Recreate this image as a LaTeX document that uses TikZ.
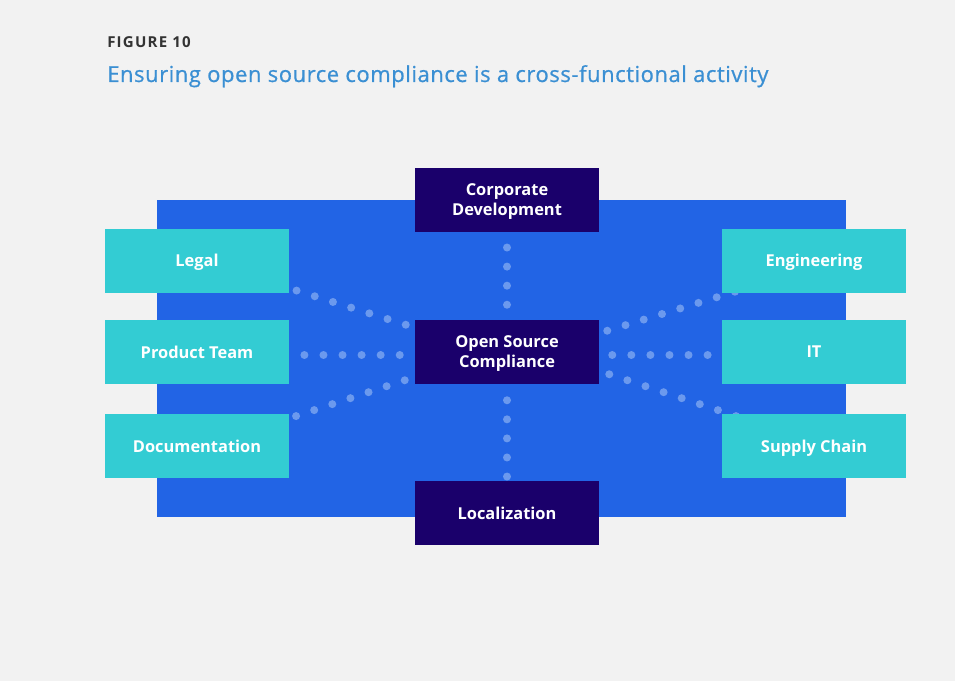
\documentclass[tikz,border=0pt]{standalone}
\usepackage{fontspec}
\setmainfont{Open Sans}
\newfontfamily\titlefont[FakeBold=0.7, LetterSpace=2.5]{Open Sans}
\newfontfamily\figfont[LetterSpace=8]{Open Sans}
\usepackage{xcolor}
\usepackage{tikz}
\usetikzlibrary{calc,backgrounds}
\definecolor{pagegray}{HTML}{F2F2F2}
\definecolor{panelblue}{HTML}{2264E5}
\definecolor{hubnavy}{HTML}{1A006B}
\definecolor{teamcyan}{HTML}{33CCD3}
\definecolor{dotblue}{HTML}{6B99EE}
\definecolor{titleblue}{HTML}{3A8FD3}
\definecolor{labelgray}{HTML}{333333}

\tikzset{
  unit/.style={minimum width=138pt, minimum height=48pt, inner sep=2pt,
    text depth=0pt, align=center, text=white,
    font=\bfseries\fontsize{12.3}{15}\selectfont},
  hubbox/.style={unit, fill=hubnavy},
  teambox/.style={unit, fill=teamcyan},
  dotline/.style={dotblue, line width=6pt, line cap=round,
    dash pattern=on 0pt off 14.3pt}
}

\begin{document}
\begin{tikzpicture}[x=0.75pt,y=-0.75pt]
\useasboundingbox (0,0) rectangle (955,681);
% headings
\node[anchor=base west, inner sep=0pt, text=labelgray,
  font=\figfont\bfseries\fontsize{11.3}{13}\selectfont] (fig) at (107,48) {FIGURE 10};
\node[anchor=base west, inner sep=0pt, text=titleblue,
  font=\titlefont\fontsize{16.5}{19}\selectfont] (title) at (107,82)
  {Ensuring open source compliance is a cross-functional activity};

% hub boxes
\node[hubbox] (corp) at (507,200) {Corporate\\Development};
\node[hubbox] (osc) at (507,352) {Open Source\\Compliance};
\node[hubbox] (loc) at (507,513) {Localization};

% team boxes
\node[teambox] (legal) at (197,260.5) {Legal};
\node[teambox] (prod) at (197,352) {Product Team};
\node[teambox] (doc) at (197,446) {Documentation};
\node[teambox] (eng) at (814,260.5) {Engineering};
\node[teambox] (it) at (814,352) {IT};
\node[teambox] (supply) at (814,446) {Supply Chain};

\begin{scope}[on background layer]
\fill[pagegray] (0,0) rectangle (955,681);
\fill[panelblue] (157,200) rectangle (846,517);
% dotted links
\draw[dotline] ($(osc.north)+(0,-15)$) -- ($(corp.south)+(0,12)$);
\draw[dotline] ($(osc.south)+(0,16)$) -- ($(loc.north)+(0,-2)$);
\draw[dotline] ($(osc.west)+(-15,3)$) -- ($(prod.east)+(12,3)$);
\draw[dotline] ($(osc.east)+(13,3)$) -- ($(it.west)+(-11,3)$);
\draw[dotline] ($(osc.north west)+(-9,5)$) -- ($(legal.south east)+(6,-2.6)$);
\draw[dotline] ($(osc.south west)+(-10,-4)$) -- ($(doc.north east)+(6,2.6)$);
\draw[dotline] ($(osc.north east)+(8,11)$) -- ($(eng.south west)+(15,-1.6)$);
\draw[dotline] ($(osc.south east)+(10,-10)$) -- ($(supply.north west)+(15,2.6)$);
\end{scope}
\end{tikzpicture}
\end{document}
